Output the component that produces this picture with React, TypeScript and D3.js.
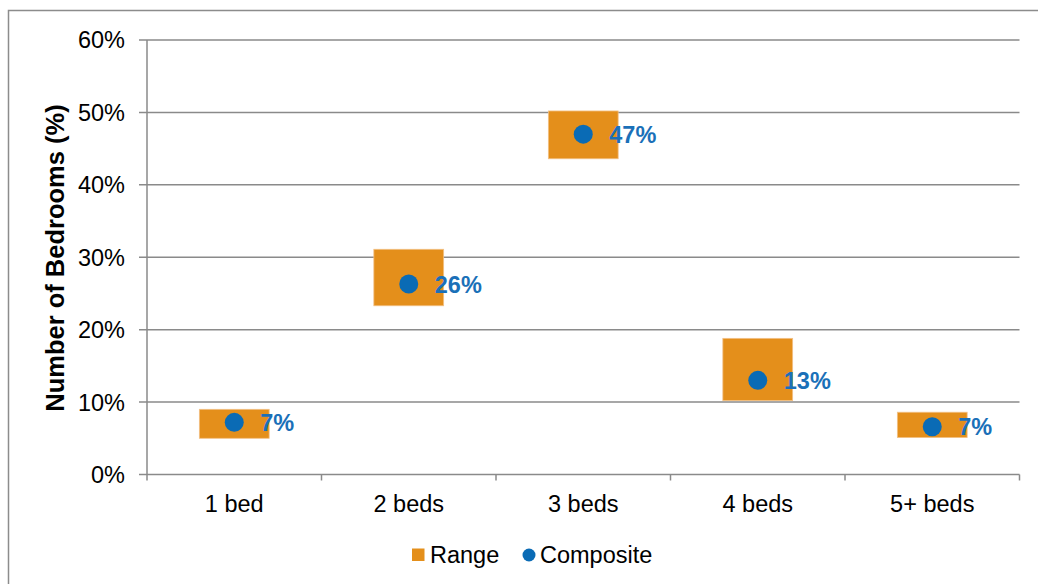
import React from "react";
import * as d3 from "d3";

const categories = ["1 bed", "2 beds", "3 beds", "4 beds", "5+ beds"];
const rangeLow = [0.05, 0.233, 0.436, 0.102, 0.051];
const rangeHigh = [0.09, 0.311, 0.502, 0.188, 0.086];
const composite = [0.072, 0.263, 0.47, 0.13, 0.066];
const compositeLabels = ["7%", "26%", "47%", "13%", "7%"];
const yTicks = [0, 0.1, 0.2, 0.3, 0.4, 0.5, 0.6];

const W = 1038;
const H = 584;
const left = 147;
const right = 1019.5;
const top = 40;
const bottom = 474.5;
const ORANGE = "#E48F1B";
const BLUE = "#0A6BB5";
const LBLUE = "#1A70B8";
const GRID = "#8A8A8A";
const FONT = "Liberation Sans, Arial, sans-serif";
const FS = 23.5;

export default function App() {
  const x = d3.scaleBand<string>().domain(categories).range([left, right]).padding(0);
  const y = d3.scaleLinear().domain([0, 0.6]).range([bottom, top]);
  const bw = x.bandwidth();
  const boxW = bw * 0.4;
  const fmt = d3.format(".0%");

  return (
    <svg width={W} height={H} style={{ position: "absolute", left: 0, top: 0, background: "#fff" }} fontFamily={FONT}>
      <rect x={8.5} y={10.5} width={1100} height={700} fill="#fff" stroke="#8C8C8C" strokeWidth={1.5} />
      {yTicks.map((t) => (
        <g key={t}>
          <line x1={left - 8} x2={right} y1={y(t)} y2={y(t)} stroke={GRID} strokeWidth={1.5} />
          <text x={125} y={y(t)} dy="0.36em" textAnchor="end" fontSize={FS} fill="#000">
            {fmt(t)}
          </text>
        </g>
      ))}
      <line x1={left} x2={left} y1={top} y2={bottom} stroke={GRID} strokeWidth={1.5} />
      {categories.map((c) => (
        <line key={"t" + c} x1={x(c)!} x2={x(c)!} y1={bottom} y2={bottom + 6} stroke={GRID} strokeWidth={1.5} />
      ))}
      <line x1={right} x2={right} y1={bottom} y2={bottom + 6} stroke={GRID} strokeWidth={1.5} />
      {categories.map((c) => (
        <text key={"l" + c} x={x(c)! + bw / 2} y={511.5} textAnchor="middle" fontSize={FS} fill="#000">
          {c}
        </text>
      ))}
      {categories.map((c, i) => (
        <rect
          key={"r" + c}
          x={x(c)! + bw / 2 - boxW / 2}
          y={y(rangeHigh[i])}
          width={boxW}
          height={y(rangeLow[i]) - y(rangeHigh[i])}
          fill={ORANGE}
          stroke="#F2C085"
          strokeWidth={0.8}
        />
      ))}
      {categories.map((c, i) => (
        <g key={"p" + c}>
          <circle cx={x(c)! + bw / 2} cy={y(composite[i])} r={9.5} fill={BLUE} />
          <text
            x={x(c)! + bw / 2 + 26}
            y={y(composite[i])}
            dy="0.36em"
            fontSize={FS}
            fontWeight="bold"
            fill={LBLUE}
          >
            {compositeLabels[i]}
          </text>
        </g>
      ))}
      <text
        transform={`translate(64,258) rotate(-90)`}
        textAnchor="middle"
        fontSize={25.5}
        fontWeight="bold"
        fill="#000"
      >
        Number of Bedrooms (%)
      </text>
      <g>
        <rect x={412} y={548.5} width={12.5} height={12.5} fill={ORANGE} />
        <text x={430} y={563} fontSize={FS} fill="#000">Range</text>
        <circle cx={529} cy={555} r={6.5} fill={BLUE} />
        <text x={540} y={563} fontSize={FS} fill="#000">Composite</text>
      </g>
    </svg>
  );
}
